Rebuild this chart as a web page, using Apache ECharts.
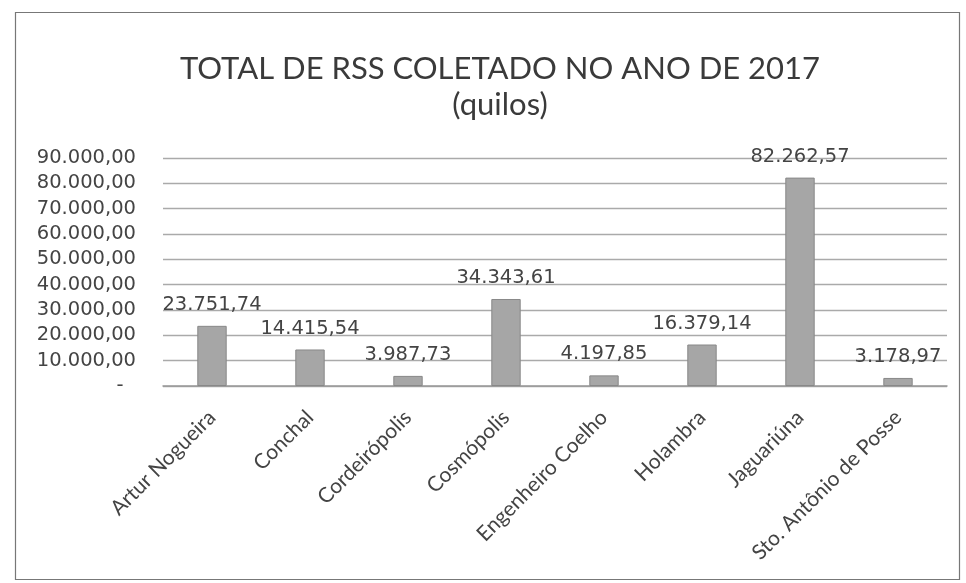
<!DOCTYPE html>
<html><head><meta charset="utf-8">
<script src="https://cdn.jsdelivr.net/npm/echarts@6/dist/echarts.min.js"></script>
<style>html,body{margin:0;padding:0;background:#fff}#c{width:966px;height:583px}</style>
</head><body><div id="c"></div>
<script>
const categories = ['Artur Nogueira','Conchal','Cordeirópolis','Cosmópolis','Engenheiro Coelho','Holambra','Jaguariúna','Sto. Antônio de Posse'];
const values = [23751.74, 14415.54, 3987.73, 34343.61, 4197.85, 16379.14, 82262.57, 3178.97];
const yTicks = [0, 10000, 20000, 30000, 40000, 50000, 60000, 70000, 80000, 90000];
const titleLines = ['TOTAL DE RSS COLETADO NO ANO DE 2017', '(quilos)'];

function fmt(v){
  if (v === 0) return '-  ';
  const neg = v < 0; v = Math.abs(v);
  const s = v.toFixed(2).split('.');
  const intp = s[0].replace(/\B(?=(\d{3})+(?!\d))/g, '.');
  return (neg?'-':'') + intp + ',' + s[1];
}
const TFONT = 'Lato';
const FONT = 'DejaVu Sans';
const chart = echarts.init(document.getElementById('c'));
chart.setOption({
  animation:false,
  backgroundColor:'#fff',
  title:{
    text: titleLines.join('\n'), left: 495, top: 46, textAlign:'center',
    textStyle:{fontFamily:TFONT, fontSize:31, fontWeight:'normal', color:'#3a3a3a', lineHeight:36}
  },
  graphic:[{type:'rect', shape:{x:15.5,y:12.5,width:944,height:567}, style:{fill:'none', stroke:'#777', lineWidth:1.2}, silent:true, z:-1}],
  grid:{left:163, right:19, top:158, bottom:197},
  xAxis:{
    type:'category', data:categories,
    axisLine:{show:true, lineStyle:{color:'#999', width:1.5}},
    axisTick:{show:false},
    axisLabel:{rotate:45, interval:0, margin:28, fontFamily:TFONT, fontSize:21, color:'#444'}
  },
  yAxis:{
    type:'value', min:yTicks[0], max:yTicks[yTicks.length-1], interval:10000,
    axisLine:{show:false}, axisTick:{show:false},
    splitLine:{lineStyle:{color:'#aaa', width:1.3}},
    axisLabel:{margin:27, fontFamily:FONT, fontSize:19.5, color:'#444', formatter:v=>fmt(v)}
  },
  series:[{
    type:'bar', data:values, barWidth:'30%',
    itemStyle:{color:'#a6a6a6', borderColor:'#888', borderWidth:1},
    label:{show:true, position:'top', distance:11, fontFamily:FONT, fontSize:19.5, color:'#444', formatter:p=>fmt(p.value)}
  }]
});
</script></body></html>
